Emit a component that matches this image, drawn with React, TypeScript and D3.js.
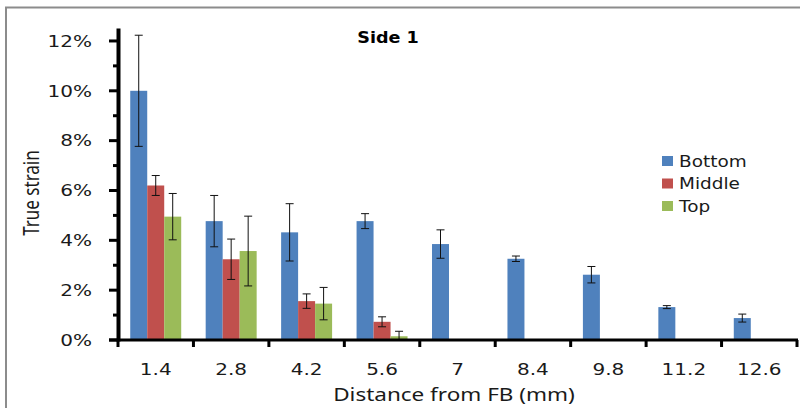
import * as d3 from "d3";

// Side 1 — true strain vs distance from fusion boundary
const categories = ["1.4", "2.8", "4.2", "5.6", "7", "8.4", "9.8", "11.2", "12.6"];
const seriesNames = ["Bottom", "Middle", "Top"];
const seriesColors = ["#4F81BD", "#C0504D", "#9BBB59"];

// values in percent, null = no bar
const bottom = [10.0, 4.77, 4.32, 4.77, 3.85, 3.26, 2.62, 1.32, 0.88];
const middle = [6.2, 3.24, 1.56, 0.73, null, null, null, null, null];
const top = [4.95, 3.57, 1.46, 0.15, null, null, null, null, null];

const bottomErr = [2.23, 1.03, 1.15, 0.3, 0.57, 0.11, 0.33, 0.06, 0.16];
const middleErr = [0.4, 0.81, 0.29, 0.2, null, null, null, null, null];
const topErr = [0.93, 1.4, 0.65, 0.2, null, null, null, null, null];

const yTicks = [0, 2, 4, 6, 8, 10, 12];
const yMinor = [1, 3, 5, 7, 9, 11];

const W = 800;
const H = 408;
const SX = 1.25; // the original is stretched horizontally

export default function App() {
  const values = [bottom, middle, top];
  const errs = [bottomErr, middleErr, topErr];

  const x0 = d3.scaleBand<string>().domain(categories).range([118, 797]).padding(0);
  const x1 = d3
    .scaleBand<string>()
    .domain(seriesNames)
    .range([0, x0.bandwidth()])
    .paddingInner(0)
    .paddingOuter(0.72);
  const y = d3.scaleLinear().domain([0, 12.5]).range([340, 28.5]);

  const tickFont = "DejaVu Sans, Verdana, sans-serif";
  const titleFont = "Noto Sans, Open Sans, sans-serif";

  return (
    <svg
      width={W}
      height={H}
      style={{ position: "absolute", left: 0, top: 0, background: "#fff" }}
    >
      {/* frame */}
      <line x1={6} x2={6} y1={7} y2={H} stroke="#8c8c8c" strokeWidth={2} />
      <line x1={5} x2={W} y1={7.5} y2={7.5} stroke="#8c8c8c" strokeWidth={2} />

      {/* bars */}
      {values.map((vals, si) =>
        vals.map((v, ci) =>
          v == null ? null : (
            <rect
              key={`b${si}-${ci}`}
              x={x0(categories[ci])! + x1(seriesNames[si])!}
              y={y(v)}
              width={x1.bandwidth()}
              height={y(0) - y(v)}
              fill={seriesColors[si]}
            />
          )
        )
      )}

      {/* error bars */}
      {values.map((vals, si) =>
        vals.map((v, ci) => {
          const e = errs[si][ci];
          if (v == null || e == null) return null;
          const cx = x0(categories[ci])! + x1(seriesNames[si])! + x1.bandwidth() / 2;
          const lo = Math.max(0, v - e);
          const hi = v + e;
          return (
            <g key={`e${si}-${ci}`} stroke="#111" strokeWidth={1}>
              <line x1={cx} x2={cx} y1={y(hi)} y2={y(lo)} />
              <line x1={cx - 4} x2={cx + 4} y1={y(hi)} y2={y(hi)} />
              <line x1={cx - 4} x2={cx + 4} y1={y(lo)} y2={y(lo)} />
            </g>
          )
        })
      )}

      {/* y axis */}
      <line x1={118.5} x2={118.5} y1={28.5} y2={341.5} stroke="#000" strokeWidth={4} />
      {yTicks.map((t) => (
        <g key={`yt${t}`}>
          <line x1={109} x2={118} y1={y(t)} y2={y(t)} stroke="#000" strokeWidth={3} />
          <text
            transform={`translate(92,${y(t) + 5.8}) scale(${SX},1)`}
            textAnchor="end"
            fontFamily={tickFont}
            fontSize={16}
            fill="#1a1a1a"
          >
            {t}%
          </text>
        </g>
      ))}
      {yMinor.map((t) => (
        <line key={`ym${t}`} x1={113} x2={118} y1={y(t)} y2={y(t)} stroke="#000" strokeWidth={3} />
      ))}

      {/* x axis */}
      <line x1={109} x2={798} y1={340} y2={340} stroke="#000" strokeWidth={3} />
      {[...categories.map((c) => x0(c)!), 797].map((px, i) => (
        <line key={`xt${i}`} x1={px} x2={px} y1={340} y2={347} stroke="#000" strokeWidth={3} />
      ))}
      {categories.map((c) => (
        <text
          key={`xl${c}`}
          transform={`translate(${x0(c)! + x0.bandwidth() / 2},375) scale(${SX},1)`}
          textAnchor="middle"
          fontFamily={tickFont}
          fontSize={16}
          fill="#1a1a1a"
        >
          {c}
        </text>
      ))}

      {/* axis titles */}
      <text
        transform={`translate(454,401) scale(${SX},1)`}
        textAnchor="middle"
        fontFamily={titleFont}
        fontSize={18}
        fill="#1a1a1a"
      >
        Distance from FB (mm)
      </text>
      <text
        transform={`translate(39,193) scale(${SX},1) rotate(-90)`}
        textAnchor="middle"
        fontFamily={titleFont}
        fontSize={17}
        fill="#1a1a1a"
      >
        True strain
      </text>

      {/* chart title */}
      <text
        transform={`translate(388,43) scale(1.1,1)`}
        textAnchor="middle"
        fontFamily={tickFont}
        fontWeight="bold"
        fontSize={16}
        fill="#000"
      >
        Side 1
      </text>

      {/* legend */}
      {seriesNames.map((s, i) => (
        <g key={`lg${s}`} transform={`translate(662,${161 + i * 22.5})`}>
          <rect x={0} y={-5} width={11} height={10} fill={seriesColors[i]} />
          <text
            transform={`translate(17,5.8) scale(1.12,1)`}
            fontFamily={tickFont}
            fontSize={16.5}
            fill="#1a1a1a"
          >
            {s}
          </text>
        </g>
      ))}
    </svg>
  );
}
